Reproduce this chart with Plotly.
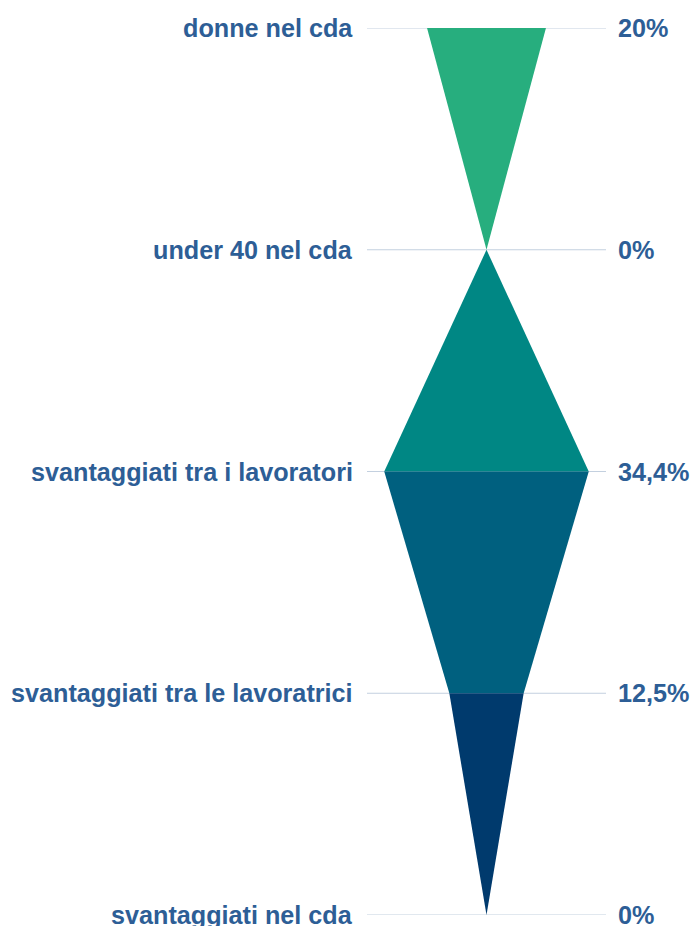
import plotly.graph_objects as go

# Funnel levels (top to bottom) and their percentage values
categories = [
    "donne nel cda",
    "under 40 nel cda",
    "svantaggiati tra i lavoratori",
    "svantaggiati tra le lavoratrici",
    "svantaggiati nel cda",
]
values = [20, 0, 34.4, 12.5, 0]
segment_colors = ["#27ae7e", "#008784", "#00607f", "#003a6d"]

TEXT_COLOR = "#2d5e96"
GRID_COLOR = "#c3d0df"
FONT = "Liberation Sans, Arial, sans-serif"


def fmt_pct(v):
    s = f"{v:g}".replace(".", ",")
    return s + "%"


fig = go.Figure()

# One trapezoid between each pair of consecutive levels, width = value
for i in range(len(values) - 1):
    a, b = values[i] / 2, values[i + 1] / 2
    fig.add_trace(go.Scatter(
        x=[-a, a, b, -b, -a],
        y=[i, i, i + 1, i + 1, i],
        mode="lines",
        fill="toself",
        fillcolor=segment_colors[i],
        line=dict(width=0),
        hoverinfo="skip",
        showlegend=False,
    ))

shapes = []
annotations = []
for i, (cat, val) in enumerate(zip(categories, values)):
    shapes.append(dict(
        type="line", xref="paper", yref="y",
        x0=0, x1=1, y0=i, y1=i,
        line=dict(color=GRID_COLOR, width=1),
        layer="below",
    ))
    annotations.append(dict(
        xref="paper", yref="y", x=0, y=i,
        text=cat, showarrow=False,
        xanchor="right", yanchor="middle", xshift=-12,
        font=dict(family=FONT, size=25.2, color=TEXT_COLOR, weight="bold"),
    ))
    annotations.append(dict(
        xref="paper", yref="y", x=1, y=i,
        text=fmt_pct(val), showarrow=False,
        xanchor="left", yanchor="middle", xshift=10,
        font=dict(family=FONT, size=25.2, color=TEXT_COLOR, weight="bold"),
    ))

fig.update_layout(
    width=691,
    height=926,
    margin=dict(l=367, r=85, t=28, b=11),
    paper_bgcolor="white",
    plot_bgcolor="white",
    shapes=shapes,
    annotations=annotations,
    xaxis=dict(range=[-20.1, 20.1], visible=False, fixedrange=True),
    yaxis=dict(range=[len(values) - 1, 0], visible=False, fixedrange=True),
    showlegend=False,
)

fig.write_html("out.html")
